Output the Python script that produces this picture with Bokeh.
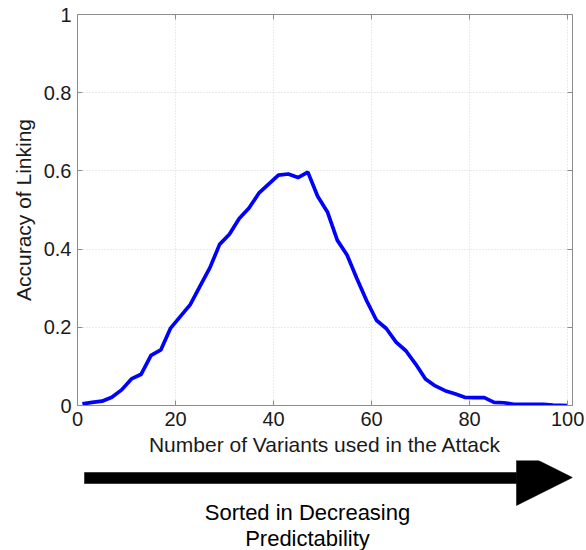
from bokeh.plotting import figure
from bokeh.layouts import column
from bokeh.models import (Range1d, LinearAxis, FixedTicker, NumeralTickFormatter,
                          CustomJSTickFormatter)
from bokeh.core.properties import value
from bokeh.embed import file_html
from bokeh.resources import INLINE

# Linking accuracy versus the number of variants used in the attack
variants = [1, 3, 5, 7, 9, 11, 13, 15, 17, 19, 21, 23, 25, 27, 29, 31, 33, 35, 37, 39,
            41, 43, 45, 47, 49, 51, 53, 55, 57, 59, 61, 63, 65, 67, 69, 71, 73, 75, 77, 79,
            81, 83, 85, 87, 89, 91, 93, 95, 97, 100]
accuracy = [0.004, 0.008, 0.011, 0.021, 0.040, 0.068, 0.080, 0.128, 0.142, 0.198,
            0.228, 0.258, 0.305, 0.352, 0.412, 0.438, 0.478, 0.505, 0.543, 0.566,
            0.589, 0.592, 0.583, 0.597, 0.535, 0.495, 0.423, 0.385, 0.325, 0.268,
            0.218, 0.197, 0.162, 0.140, 0.106, 0.068, 0.050, 0.038, 0.030, 0.021,
            0.020, 0.020, 0.008, 0.007, 0.003, 0.003, 0.003, 0.003, 0.001, 0.000]

x_ticks = [0, 20, 40, 60, 80, 100]
y_ticks = [0, 0.2, 0.4, 0.6, 0.8, 1.0]

x_title = "Number of Variants used in the Attack"
y_title = "Accuracy of Linking"
caption_lines = ["Sorted in Decreasing", "Predictability"]

FONT = "Liberation Sans"
AXIS_GRAY = "#8c8c8c"
TEXT = "#1a1a1a"
LEFT, RIGHT, TOP = 77, 14, 14

p = figure(width=586, height=460, output_backend="svg", toolbar_location=None,
           x_range=Range1d(0, 101), y_range=Range1d(0, 1),
           min_border_left=LEFT, min_border_right=RIGHT, min_border_top=TOP,
           min_border_bottom=55, x_axis_label=x_title, y_axis_label=y_title)
p.outline_line_color = None
p.background_fill_color = "white"
p.border_fill_color = "white"

p.line(variants, accuracy, line_color="#0000ff", line_width=3.7)

for ax, ticks in ((p.xaxis[0], x_ticks), (p.yaxis[0], y_ticks)):
    ax.ticker = FixedTicker(ticks=ticks)
    ax.minor_tick_line_color = None
    ax.major_tick_in = 5
    ax.major_tick_out = 0
    ax.axis_line_color = AXIS_GRAY
    ax.major_tick_line_color = AXIS_GRAY
    ax.major_label_text_font = FONT
    ax.major_label_text_font_size = "20px"
    ax.major_label_text_color = TEXT
    ax.axis_label_text_font = FONT
    ax.axis_label_text_font_size = "21px"
    ax.axis_label_text_font_style = "normal"
    ax.axis_label_text_color = TEXT

p.yaxis[0].formatter = NumeralTickFormatter(format="0.[0]")
p.yaxis[0].major_label_standoff = 6
p.yaxis[0].axis_label_standoff = 6
p.xaxis[0].major_label_standoff = 6
p.xaxis[0].axis_label_standoff = 4

# box-style frame: unlabeled axes on the top and right with inward ticks
blank = CustomJSTickFormatter(code="return ''")
for loc, ticks in (("above", x_ticks), ("right", y_ticks)):
    ax = LinearAxis(ticker=FixedTicker(ticks=ticks), formatter=blank,
                    major_tick_in=5, major_tick_out=0,
                    minor_tick_line_color=None, axis_line_color=AXIS_GRAY,
                    major_tick_line_color=AXIS_GRAY, major_label_standoff=0)
    p.add_layout(ax, loc)

for g in (p.xgrid[0], p.ygrid[0]):
    g.grid_line_color = "#d6d6d6"
    g.grid_line_dash = "1 2"
    g.grid_line_width = 1
p.xgrid[0].ticker = FixedTicker(ticks=x_ticks)
p.ygrid[0].ticker = FixedTicker(ticks=y_ticks)

# caption strip below the chart; its ranges are set in page pixels so the
# arrow and the two text lines sit directly under the plot frame
q = figure(width=586, height=90, output_backend="svg", toolbar_location=None,
           x_range=Range1d(LEFT, 586 - RIGHT), y_range=Range1d(550, 460),
           min_border_left=LEFT, min_border_right=RIGHT, min_border_top=0,
           min_border_bottom=0, outline_line_color=None)
q.axis.visible = False
q.grid.visible = False
q.border_fill_color = "white"
q.background_fill_color = "white"

shaft_x = [84, 516, 516, 84]
shaft_y = [472, 472, 483, 483]
head_x = [516, 572, 516]
head_y = [449, 477, 505]
q.patch(shaft_x, shaft_y, fill_color="black", line_color="black", line_width=0.5)
q.patch(head_x, head_y, fill_color="black", line_color="black", line_width=0.5)

q.text(x=[307, 307], y=[512, 538], text=caption_lines, text_align="center",
       text_baseline="middle", text_font=value(FONT), text_font_size="22px",
       text_color="black")

layout = column(p, q, spacing=0)
open("out.html", "w").write(file_html(layout, INLINE))
